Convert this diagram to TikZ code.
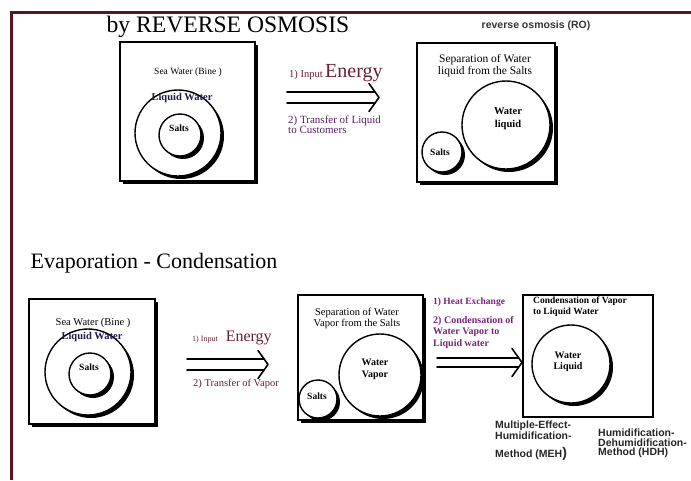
\documentclass[tikz,border=0pt]{standalone}
\usepackage{fontspec}
\setmainfont{Liberation Serif}
\setsansfont{Liberation Sans}
\usepackage{xcolor}
\usepackage{tikz}
\usetikzlibrary{calc,shadows}
\definecolor{framered}{HTML}{5A1520}
\definecolor{energyred}{HTML}{6A1E2E}
\definecolor{transferpurple}{HTML}{55205F}
\definecolor{heatmagenta}{HTML}{7A2379}
\definecolor{liquidnavy}{HTML}{1C1C50}
\tikzset{
  panel/.style={draw,line width=1.4pt,fill=white,inner sep=0pt},
  shadowed/.style={drop shadow={shadow xshift=3pt,shadow yshift=-3pt,opacity=1,fill=black}},
  blob/.style={circle,draw,line width=1.4pt,fill=white,inner sep=0pt,shadowed},
  lbl/.style={inner sep=0pt,align=center},
  transfer/.style={line width=1.6pt,line cap=round,line join=round},
  method/.style={inner sep=0pt,align=left,anchor=north west,
    font=\sffamily\bfseries\fontsize{10.5}{9.5}\selectfont,text=black!85}
}
\newcommand{\drawSeaWater}[3]{% name, outer circle center: x,y
  \node[blob,minimum size=86pt] (#1outer) at (#2,#3) {};
  \node[blob,minimum size=42pt] (#1inner) at (#2+2,#3+2) {};
  \node[lbl,text=liquidnavy,font=\bfseries\fontsize{10.5}{12}\selectfont] (#1liquid) at (#2+4,#3-35) {Liquid Water};
  \node[lbl,font=\bfseries\fontsize{9.5}{11}\selectfont] (#1salts) at (#2+1,#3-5) {Salts};
}
\newcommand{\drawTransfer}[3]{% start, tip, half gap of the two lines
  \draw[transfer] ($(#1)+(0,-#3)$) -- ($(#2)+(-4,-#3)$);
  \draw[transfer] ($(#1)+(0,#3)$) -- ($(#2)+(-4,#3)$);
  \draw[transfer] ($(#2)+(-10,-14)$) -- (#2) -- ($(#2)+(-10,14)$);
}
\begin{document}
\begin{tikzpicture}[x=1pt,y=-1pt]
\useasboundingbox (0,0) rectangle (691,480);
% Frame
\coordinate (frameBL) at (11,480);
\coordinate (frameTL) at (11,12);
\coordinate (frameTR) at (691,12);
\draw[framered,line width=3pt] (frameBL) -- (frameTL) -- (frameTR);

% Reverse osmosis
\node[lbl,font=\fontsize{23.6}{25}\selectfont] (roTitle) at (228,27) {by REVERSE OSMOSIS};
\node[lbl,font=\sffamily\bfseries\fontsize{10.5}{12}\selectfont,text=black!80] (roName) at (536,26) {reverse osmosis (RO)};

% Sea water, top
\node[panel,shadowed,minimum width=135pt,minimum height=139pt] (roFeed) at (187.5,111.5) {};
\node[lbl,font=\fontsize{9.5}{11}\selectfont] (roFeedText) at (188,72) {Sea Water (Bine )};
\drawSeaWater{roSea}{178}{133}

% Arrow, top
\coordinate (roArrowStart) at (287,97.5);
\coordinate (roArrowTip) at (379,97.5);
\drawTransfer{roArrowStart}{roArrowTip}{5.5}
\node[inner sep=0pt,anchor=base west,text=energyred] (roEnergy) at (289,77)
  {{\fontsize{10.5}{12}\selectfont 1) Input} {\fontsize{20}{22}\selectfont Energy}};
\node[inner sep=0pt,anchor=north west,align=left,text=transferpurple,font=\fontsize{11}{10}\selectfont] (roLiquid) at (288,116)
  {2) Transfer of Liquid\\to Customers};

% Separation, top
\node[panel,shadowed,minimum width=138pt,minimum height=139pt] (roSep) at (486,112.5) {};
\node[lbl,font=\fontsize{11.5}{12}\selectfont] (roSepText) at (485,66) {Separation of Water\\liquid from the Salts};
\node[blob,minimum size=88pt] (roWater) at (506,125) {};
\node[lbl,font=\bfseries\fontsize{10.5}{13}\selectfont] (roWaterText) at (508,119) {Water\\liquid};
\node[blob,minimum size=40pt] (roSalts) at (442,152) {};
\node[lbl,font=\bfseries\fontsize{9.5}{11}\selectfont] (roSaltsText) at (440,152) {Salts};

% Evaporation - condensation
\node[lbl,font=\fontsize{22}{24}\selectfont] (ecTitle) at (154,263) {Evaporation - Condensation};

% Sea water, bottom
\node[panel,shadowed,minimum width=126pt,minimum height=125pt] (ecFeed) at (92,361.5) {};
\node[lbl,font=\fontsize{10.5}{12}\selectfont] (ecFeedText) at (93,323) {Sea Water (Bine )};
\drawSeaWater{ecSea}{88}{372}

% Arrow, input energy
\coordinate (ecArrowStart) at (187,364.5);
\coordinate (ecArrowTip) at (268,364.5);
\drawTransfer{ecArrowStart}{ecArrowTip}{5.5}
\node[inner sep=0pt,anchor=base west,text=energyred] (ecEnergy) at (192,341)
  {{\fontsize{8}{10}\selectfont 1) Input}\hspace{8pt}{\fontsize{16}{18}\selectfont Energy}};
\node[lbl,text=energyred,font=\fontsize{10.5}{12}\selectfont] (ecVapor) at (236,384) {2) Transfer of Vapor};

% Separation, bottom
\node[panel,shadowed,minimum width=125pt,minimum height=125pt] (ecSep) at (360.5,357.5) {};
\node[lbl,font=\fontsize{10.5}{11}\selectfont] (ecSepText) at (357,318) {Separation of Water\\Vapor from the Salts};
\node[blob,minimum size=82pt] (ecWater) at (380,375) {};
\node[lbl,font=\bfseries\fontsize{10}{12}\selectfont] (ecWaterText) at (375,369) {Water\\Vapor};
\node[blob,minimum size=38pt] (ecSalts) at (318,399) {};
\node[lbl,font=\bfseries\fontsize{9.5}{11}\selectfont] (ecSaltsText) at (317,396) {Salts};

% Arrow, heat exchange
\coordinate (ecHeatStart) at (437,362.5);
\coordinate (ecHeatTip) at (522,362.5);
\drawTransfer{ecHeatStart}{ecHeatTip}{4.5}
\node[inner sep=0pt,anchor=west,text=heatmagenta,font=\bfseries\fontsize{9.5}{11}\selectfont] (ecHeat) at (433,302) {1) Heat Exchange};
\node[inner sep=0pt,anchor=north west,align=left,text=heatmagenta,font=\bfseries\fontsize{10}{11.5}\selectfont] (ecCond) at (433,316)
  {2) Condensation of\\Water Vapor to\\Liquid water};

% Condensation
\node[panel,minimum width=130pt,minimum height=122pt] (ecLiquid) at (588,356) {};
\node[inner sep=0pt,anchor=north west,align=left,font=\bfseries\fontsize{9.5}{11}\selectfont] (ecLiquidText) at (533,297)
  {Condensation of Vapor\\to Liquid Water};
\node[blob,minimum size=78pt] (ecDrop) at (571,364) {};
\node[lbl,font=\bfseries\fontsize{10}{11}\selectfont] (ecDropText) at (568,362) {Water\\Liquid};

% Methods
\node[method] (mehName) at (495,421) {Multiple-Effect-\\Humidification-};
\node[method,anchor=base west] (mehAbbr) at (495,457) {Method (MEH{\fontsize{14}{14}\selectfont)}};
\node[method] (hdhName) at (598,429) {Humidification-\\Dehumidification-\\Method (HDH)};
\end{tikzpicture}
\end{document}
